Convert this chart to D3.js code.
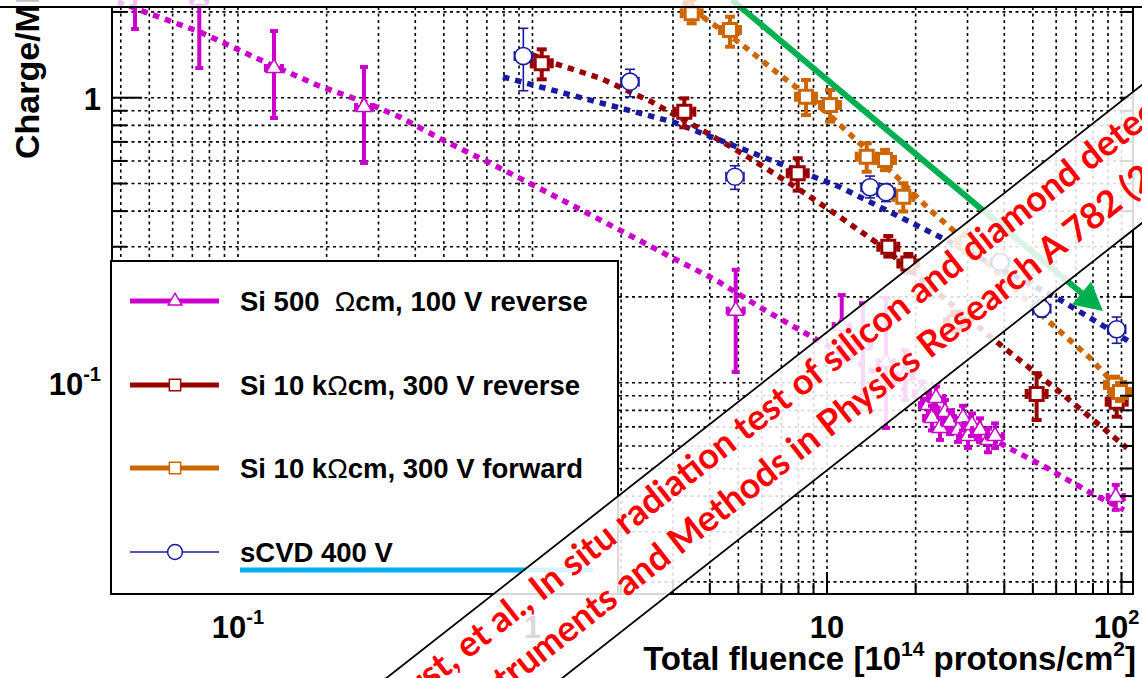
<!DOCTYPE html>
<meta charset="utf-8">
<style>
  body { margin: 0; background: #fff; }
  text { font-family: "Liberation Sans", Arial, sans-serif; }
</style>

<!-- Load d3.js -->
<script src="https://d3js.org/d3.v7.min.js"></script>

<div id="chart"></div>

<script>
const width = 1142, height = 678;

// Si 500 Ohm cm, 100 V reverse  (fluence in 1e14 p/cm2, charge per MIP)
const si500Fluence = [0.0447, 0.0739, 0.1325, 0.2678, 4.898, 11.22, 13.25, 15.86, 18.4,
  21.02, 22.03, 22.73, 23.45, 24.19, 25.16, 26.17, 27.85, 28.96, 30.11, 31.07, 33.07, 35.21, 37.2, 95.6];
const si500Charge = [2.39, 2.2, 1.271, 0.928, 0.179, 0.158, 0.136, 0.118, 0.106,
  0.092, 0.0835, 0.0752, 0.0884, 0.0694, 0.0789, 0.0728, 0.0682, 0.0752, 0.065, 0.0711, 0.0682, 0.0629, 0.065, 0.0397];
const si500Lo = [1.742, 1.271, 0.849, 0.59, 0.109, 0.120, 0.0905, 0.0694, 0.087,
  0.083, 0.076, 0.068, 0.080, 0.063, 0.072, 0.066, 0.062, 0.068, 0.059, 0.065, 0.062, 0.057, 0.059, 0.0358];
const si500Hi = [3.0, 3.13, 1.714, 1.282, 0.249, 0.203, 0.190, 0.198, 0.130,
  0.101, 0.092, 0.083, 0.097, 0.076, 0.087, 0.080, 0.075, 0.083, 0.072, 0.078, 0.075, 0.069, 0.072, 0.0438];
const si500FitFluence = [0.0391, 0.0743, 0.1254, 0.1855, 0.2742, 0.3549, 0.4967, 0.7172, 1.004, 1.531,
  2.194, 2.953, 4.199, 5.924, 8.896, 40.86, 55.85, 78.8, 102.0];
const si500FitCharge = [2.167, 1.70, 1.324, 1.108, 0.958, 0.855, 0.710, 0.590, 0.494, 0.394,
  0.3245, 0.276, 0.229, 0.184, 0.1446, 0.0595, 0.0502, 0.041, 0.0358];

// Si 10 kOhm cm, 300 V reverse
const si10kRevFluence = [1.075, 3.277, 7.954, 16.15, 18.89, 27.2, 51.5, 96.3];
const si10kRevCharge = [1.32, 0.893, 0.543, 0.300, 0.262, 0.163, 0.0913, 0.0858];
const si10kRevLo = [1.16, 0.787, 0.472, 0.277, 0.243, 0.151, 0.074, 0.076];
const si10kRevHi = [1.478, 0.995, 0.613, 0.327, 0.283, 0.177, 0.108, 0.093];
const si10kRevFitFluence = [0.914, 1.147, 1.695, 2.506, 3.705, 5.477, 8.095, 11.07, 15.14, 39.6, 61.8, 104.4];
const si10kRevFitCharge = [1.47, 1.335, 1.172, 0.974, 0.777, 0.614, 0.4745, 0.3815, 0.304, 0.1334, 0.0927, 0.059];

// Si 10 kOhm cm, 300 V forward
const si10kFwdFluence = [3.472, 4.684, 8.485, 10.24, 13.64, 15.74, 18.16, 29.8, 95.0, 98.8];
const si10kFwdCharge = [1.978, 1.728, 1.008, 0.943, 0.621, 0.605, 0.449, 0.309, 0.0983, 0.0927];
const si10kFwdLo = [1.824, 1.51, 0.869, 0.824, 0.550, 0.557, 0.399, 0.285, 0.0905, 0.0863];
const si10kFwdHi = [2.2, 1.924, 1.154, 1.064, 0.692, 0.656, 0.501, 0.335, 0.105, 0.0998];
const si10kFwdFitFluence = [3.0, 3.425, 3.913, 5.066, 6.925, 8.966, 12.25, 17.29, 22.37, 26.78, 55.85, 78.2, 104.4];
const si10kFwdFitCharge = [2.31, 2.08, 1.874, 1.556, 1.201, 0.982, 0.728, 0.527, 0.4036, 0.3434, 0.166, 0.1221, 0.0884];

// sCVD diamond, 400 V
const scvdFluence = [0.931, 2.143, 4.87, 14.0, 15.86, 38.7, 53.6, 96.3];
const scvdCharge = [1.40, 1.138, 0.528, 0.485, 0.466, 0.265, 0.182, 0.154];
const scvdLo = [1.058, 1.008, 0.477, 0.445, 0.432, 0.249, 0.170, 0.1375];
const scvdHi = [1.752, 1.258, 0.577, 0.531, 0.498, 0.283, 0.195, 0.170];
const scvdFitFluence = [0.794, 3.0, 11.07, 24.2, 60.4, 106.9];
const scvdFitCharge = [1.182, 0.822, 0.486, 0.3245, 0.1982, 0.139];

const legendLabels = ["Si 500  |Ω|cm, 100 V reverse", "Si 10 k|Ω|cm, 300 V reverse",
  "Si 10 k|Ω|cm, 300 V forward", "sCVD 400 V"];

// green arrow annotation, in data units
const arrowFrom = [4.757, 2.202], arrowTo = [86.5, 0.1785];

const bannerLine1 = "C. Kurfürst, et al., In situ radiation test of silicon and diamond detectors";
const bannerLine2 = "Nuclear Instruments and Methods in Physics Research A 782 (2015)";

const svg = d3.select("#chart").append("svg")
  .attr("width", width).attr("height", height);
svg.append("rect").attr("width", width).attr("height", height).attr("fill", "#fff");

const x = d3.scaleLog().domain([0.03735, 109.4]).range([112, 1133]);
const y = d3.scaleLog().domain([0.01814, 2.081]).range([594, 7]);
const [x0, x1] = x.range(), [yb, yt] = y.range();
const isMajor = v => Math.abs(Math.log10(v) - Math.round(Math.log10(v))) < 1e-6;

svg.append("defs").append("clipPath").attr("id", "plotClip")
  .append("rect").attr("x", x0).attr("y", -30).attr("width", x1 - x0).attr("height", yb + 30);

// dotted grid
const grid = svg.append("g").attr("stroke", "#000").attr("stroke-width", 1.6)
  .attr("stroke-dasharray", "3,3.5");
grid.selectAll(".gx").data(x.ticks()).join("line").attr("class", "gx")
  .attr("x1", d => x(d)).attr("x2", d => x(d)).attr("y1", yt).attr("y2", yb);
grid.selectAll(".gy").data(y.ticks()).join("line").attr("class", "gy")
  .attr("x1", x0).attr("x2", x1).attr("y1", d => y(d)).attr("y2", d => y(d));

const series = [
  {fl: si500Fluence, q: si500Charge, lo: si500Lo, hi: si500Hi, fitF: si500FitFluence, fitQ: si500FitCharge,
   color: "#cc00cc", shape: d3.symbolTriangle, size: 105, mw: 1.5, bar: 4, cap: 4, hx: 8, legW: 5},
  {fl: si10kRevFluence, q: si10kRevCharge, lo: si10kRevLo, hi: si10kRevHi, fitF: si10kRevFitFluence, fitQ: si10kRevFitCharge,
   color: "#990000", shape: d3.symbolSquare, size: 170, mw: 3, bar: 4, cap: 5, hx: 10, legW: 5},
  {fl: si10kFwdFluence, q: si10kFwdCharge, lo: si10kFwdLo, hi: si10kFwdHi, fitF: si10kFwdFitFluence, fitQ: si10kFwdFitCharge,
   color: "#cc6600", shape: d3.symbolSquare, size: 170, mw: 3, bar: 4, cap: 5, hx: 10, legW: 5},
  {fl: scvdFluence, q: scvdCharge, lo: scvdLo, hi: scvdHi, fitF: scvdFitFluence, fitQ: scvdFitCharge,
   color: "#1a1aa0", shape: d3.symbolCircle, size: 230, mw: 1.6, bar: 1.6, cap: 5, hx: 9, legW: 1.6}
];

const plot = svg.append("g").attr("clip-path", "url(#plotClip)");

// fit curves
const line = d3.line().x(d => x(d[0])).y(d => y(d[1]));
series.forEach(s => {
  plot.append("path")
    .attr("d", line(d3.zip(s.fitF, s.fitQ)))
    .attr("fill", "none")
    .attr("stroke", s.color)
    .attr("stroke-width", 5.5)
    .attr("stroke-dasharray", "6.5,6");
});

// data points with error bars
series.forEach(s => {
  const g = plot.append("g").attr("stroke", s.color);
  s.fl.forEach((f, i) => {
    const cx = x(f), cy = y(s.q[i]), ylo = y(s.lo[i]), yhi = y(s.hi[i]);
    g.append("line").attr("x1", cx).attr("x2", cx).attr("y1", ylo).attr("y2", yhi)
      .attr("stroke-width", s.bar);
    [ylo, yhi].forEach(yy => g.append("line")
      .attr("x1", cx - s.cap).attr("x2", cx + s.cap).attr("y1", yy).attr("y2", yy)
      .attr("stroke-width", s.bar));
    g.append("line").attr("x1", cx - s.hx).attr("x2", cx + s.hx).attr("y1", cy).attr("y2", cy)
      .attr("stroke-width", s.bar);
    [cx - s.hx, cx + s.hx].forEach(xx => g.append("line")
      .attr("x1", xx).attr("x2", xx).attr("y1", cy - s.cap).attr("y2", cy + s.cap)
      .attr("stroke-width", s.bar));
    g.append("path")
      .attr("d", d3.symbol().type(s.shape).size(s.size)())
      .attr("transform", "translate(" + cx + "," + cy + ")")
      .attr("fill", "#fff")
      .attr("stroke-width", s.mw);
  });
});

// frame and ticks
const axes = svg.append("g").attr("stroke", "#000").attr("stroke-width", 2);
axes.append("rect").attr("x", x0).attr("y", yt).attr("width", x1 - x0).attr("height", yb - yt)
  .attr("fill", "none");
axes.selectAll(".tb").data(x.ticks()).join("line").attr("class", "tb")
  .attr("x1", d => x(d)).attr("x2", d => x(d))
  .attr("y1", yb).attr("y2", d => yb - (isMajor(d) ? 22 : 11));
axes.selectAll(".tl").data(y.ticks()).join("line").attr("class", "tl")
  .attr("y1", d => y(d)).attr("y2", d => y(d))
  .attr("x1", x0).attr("x2", d => x0 + (isMajor(d) ? 30 : 15));
axes.selectAll(".tr").data(y.ticks()).join("line").attr("class", "tr")
  .attr("y1", d => y(d)).attr("y2", d => y(d))
  .attr("x1", x1).attr("x2", x1 - 13);

// tick labels
function powLabel(sel, base, exp) {
  sel.append("tspan").text(base);
  if (exp !== null) sel.append("tspan").attr("font-size", 20).attr("dy", -14).text(exp);
}
const xLabels = [[0.1, "-1", 0], [1, null, 0], [10, null, 0], [100, "2", -5]];
xLabels.forEach(([v, e, dx]) => {
  const t = svg.append("text").attr("x", x(v) + dx).attr("y", 638)
    .attr("text-anchor", "middle").attr("font-size", 31).attr("font-weight", "bold");
  powLabel(t, v === 1 ? "1" : "10", e);
});
const yLabels = [[1, null], [0.1, "-1"]];
yLabels.forEach(([v, e]) => {
  const t = svg.append("text").attr("x", 101).attr("y", y(v) + 12)
    .attr("text-anchor", "end").attr("font-size", 31).attr("font-weight", "bold");
  powLabel(t, v === 1 ? "1" : "10", e);
});

// axis titles
const xt = svg.append("text").attr("x", 1136).attr("y", 670).attr("text-anchor", "end")
  .attr("font-size", 33).attr("font-weight", "bold");
xt.append("tspan").text("Total fluence [10");
xt.append("tspan").attr("font-size", 21).attr("dy", -14).text("14");
xt.append("tspan").attr("dy", 14).text(" protons/cm");
xt.append("tspan").attr("font-size", 21).attr("dy", -14).text("2");
xt.append("tspan").attr("dy", 14).text("]");

svg.append("text").attr("transform", "translate(39,159) rotate(-90)")
  .attr("font-size", 34).attr("font-weight", "bold").text("Charge/MIP");

// legend
const leg = svg.append("g");
leg.append("rect").attr("x", 111).attr("y", 261).attr("width", 507).attr("height", 333)
  .attr("fill", "#fff").attr("stroke", "#000").attr("stroke-width", 2);
const legY = [301, 385, 468, 552];
series.forEach((s, i) => {
  leg.append("line").attr("x1", 130).attr("x2", 219).attr("y1", legY[i]).attr("y2", legY[i])
    .attr("stroke", s.color).attr("stroke-width", s.legW);
  leg.append("path").attr("d", d3.symbol().type(s.shape).size(s.size * 0.75)())
    .attr("transform", "translate(175," + legY[i] + ")")
    .attr("fill", "#fff").attr("stroke", s.color).attr("stroke-width", 1.5);
  const t = leg.append("text").attr("x", 240).attr("y", legY[i] + 10)
    .attr("font-size", 27.5).attr("font-weight", "bold").style("white-space", "pre");
  legendLabels[i].split("|").forEach(part => {
    const ts = t.append("tspan").text(part);
    if (part === "Ω") ts.attr("font-weight", "normal");
  });
});

// cyan underline below "sCVD 400 V"
svg.append("line").attr("x1", 240).attr("x2", 593).attr("y1", 570).attr("y2", 570)
  .attr("stroke", "#00b0f0").attr("stroke-width", 5);

// green arrow
const ax0 = x(arrowFrom[0]), ay0 = y(arrowFrom[1]), ax1 = x(arrowTo[0]), ay1 = y(arrowTo[1]);
const alen = Math.hypot(ax1 - ax0, ay1 - ay0), ux = (ax1 - ax0) / alen, uy = (ay1 - ay0) / alen;
const hl = 28, hw = 15;
const bx = ax1 - ux * hl, by = ay1 - uy * hl;
svg.append("line").attr("x1", ax0).attr("y1", ay0).attr("x2", bx + ux * 2).attr("y2", by + uy * 2)
  .attr("stroke", "#00b050").attr("stroke-width", 6);
svg.append("path")
  .attr("d", "M" + ax1 + "," + ay1 + "L" + (bx - uy * hw) + "," + (by + ux * hw) +
    "L" + (bx + uy * hw) + "," + (by - ux * hw) + "Z")
  .attr("fill", "#00b050");

// faded strip above the frame and top rule
svg.append("rect").attr("x", 0).attr("y", 0).attr("width", width).attr("height", yt - 1)
  .attr("fill", "#fff").attr("opacity", 0.75);
svg.append("line").attr("x1", 0).attr("x2", width).attr("y1", yt).attr("y2", yt)
  .attr("stroke", "#000").attr("stroke-width", 2);

// diagonal citation banner
const band = svg.append("g").attr("transform", "translate(980,212.1) rotate(-38.13)");
const bandW = 108.6;
band.append("rect").attr("x", -1500).attr("y", 0).attr("width", 3000).attr("height", bandW)
  .attr("fill", "#fff").attr("opacity", 0.85);
[0, bandW].forEach(v => band.append("line").attr("x1", -1500).attr("x2", 1500)
  .attr("y1", v).attr("y2", v).attr("stroke", "#000").attr("stroke-width", 1.8));

const t1 = band.append("text").attr("y", 36).attr("fill", "#ff0000")
  .style("font-family", "Lato, sans-serif")
  .attr("font-size", 36).attr("font-weight", "bold")
  .text(bannerLine1);
t1.attr("x", -215 - t1.node().getSubStringLength(0, bannerLine1.indexOf("silicon")));
const t2 = band.append("text").attr("y", 85).attr("fill", "#ff0000")
  .style("font-family", "Lato, sans-serif")
  .attr("font-size", 36).attr("font-weight", "bold")
  .text(bannerLine2);
t2.attr("x", -258 - t2.node().getSubStringLength(0, bannerLine2.indexOf("Physics")));
</script>
